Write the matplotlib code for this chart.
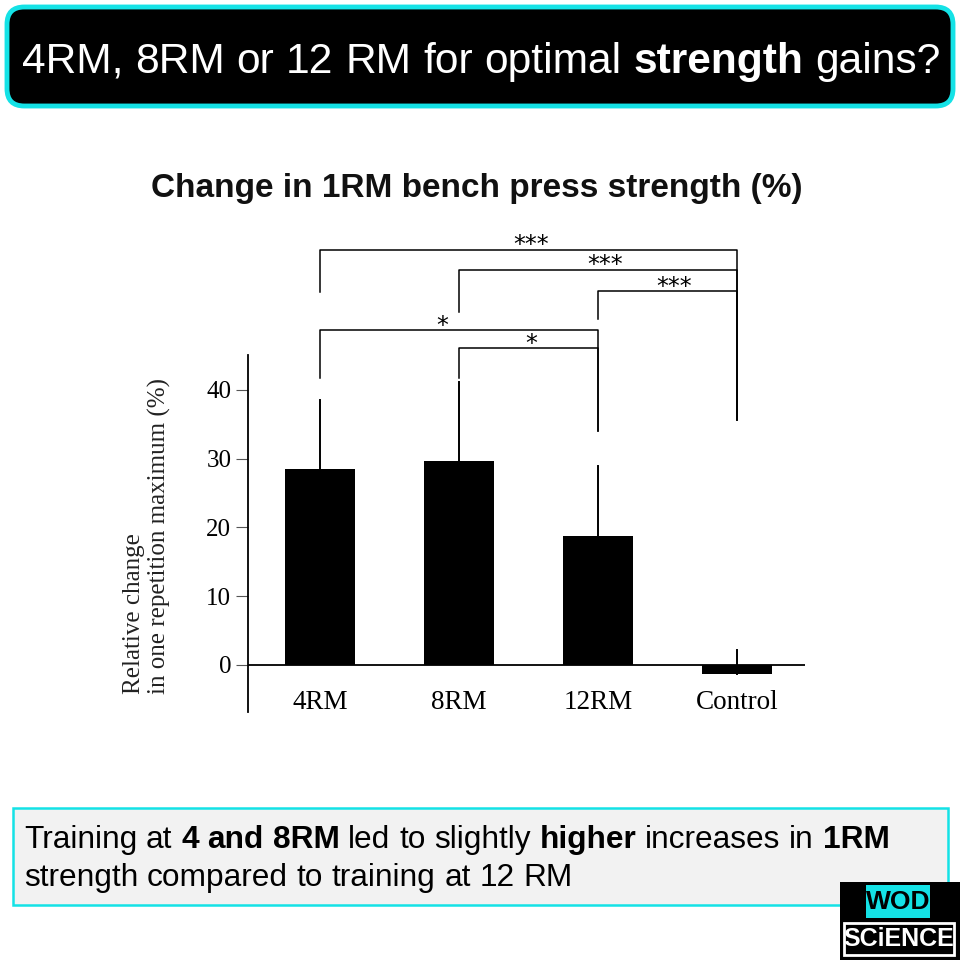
import matplotlib
matplotlib.use("Agg")
import matplotlib.pyplot as plt
from matplotlib.patches import FancyBboxPatch, Rectangle

# --- data ---
groups = ["4RM", "8RM", "12RM", "Control"]
change_pct = [28.5, 29.6, 18.7, -1.3]
change_sd = [10.0, 11.6, 10.3, 3.5]
y_ticks = [0, 10, 20, 30, 40]

# (left group, right group, bracket height, left leg end, right leg end, label, label x)
brackets = [
    (0, 3, 60.4, 54.2, 35.6, "***", 1.52),
    (1, 3, 57.5, 51.3, 35.6, "***", 2.05),
    (2, 3, 54.4, 50.3, 35.6, "***", 2.55),
    (0, 2, 48.7, 41.8, 34.0, "*", 0.88),
    (1, 2, 46.1, 41.8, 34.0, "*", 1.52),
]

header_parts = [("4RM, 8RM or 12 RM for optimal", "normal"), ("strength", "bold"), ("gains?", "normal")]
chart_title = "Change in 1RM bench press strength (%)"
note_line1 = [("Training at", "normal"), ("4 and 8RM", "bold"), ("led to slightly", "normal"),
              ("higher", "bold"), ("increases in", "normal"), ("1RM", "bold")]
note_line2 = [("strength compared to training at 12 RM", "normal")]
y_label_lines = ["Relative change", "in one repetition maximum (%)"]

W = H = 960
CYAN = "#14e2e6"
SANS_N = ["Liberation Sans Narrow", "Liberation Sans"]
SERIF = "Liberation Serif"

fig = plt.figure(figsize=(9.6, 9.6), dpi=100)
fig.patch.set_facecolor("white")
rend = fig.canvas.get_renderer()


def fx(px):
    return px / W


def fy(py):
    return 1 - py / H


def _w(s, size, family, weight):
    t = fig.text(0, 0, s, fontsize=size, family=family, weight=weight)
    w = t.get_window_extent(rend).width
    t.remove()
    return w


def rich_line(parts, x0, base_y, size, family, color, ha="left", fit=None):
    words = [(w, wt) for txt, wt in parts for w in txt.split()]

    def layout(sz):
        sp = _w("a a", sz, family, "normal") - _w("aa", sz, family, "normal")
        ws = [_w(w, sz, family, wt) for w, wt in words]
        return sp, ws, sum(ws) + sp * (len(ws) - 1)

    sp, ws, total = layout(size)
    if fit is not None:
        size = size * fit / total
        sp, ws, total = layout(size)
    x = x0 - total / 2 if ha == "center" else x0
    for (w, wt), wd in zip(words, ws):
        fig.text(fx(x), fy(base_y), w, fontsize=size, family=family, weight=wt,
                 color=color, va="baseline", ha="left")
        x += wd + sp
    return size


# --- header box ---
fig.patches.append(FancyBboxPatch((fx(7), fy(106)), fx(946), (106 - 7) / H,
                                  boxstyle="round,pad=0,rounding_size=0.018",
                                  transform=fig.transFigure, facecolor="black",
                                  edgecolor=CYAN, linewidth=3.5))
rich_line(header_parts, 481, 73, 33, SANS_N, "white", ha="center", fit=918)

# --- chart title ---
title_size = 20 * 650 / _w(chart_title, 20, "Liberation Sans", "bold")
fig.text(fx(477), fy(197), chart_title, fontsize=title_size, family="Liberation Sans",
         weight="bold", ha="center", va="baseline", color="#111111")

# --- chart ---
ax = fig.add_axes([fx(248), fy(712), (805 - 248) / W, (712 - 230) / H])
xs = list(range(len(groups)))
ax.bar(xs, change_pct, width=0.5, color="black", zorder=2)
for x, m, s in zip(xs, change_pct, change_sd):
    ax.plot([x, x], [m, m + s], color="black", lw=1.4, zorder=1)
ax.axhline(0, color="black", lw=1.3, zorder=3)

for l, r, yb, ly, ry, lab, tx in brackets:
    ax.plot([l, l, r, r], [ly, yb, yb, ry], color="black", lw=1.1, clip_on=False)
    ax.text(tx, yb - 0.4, lab, ha="center", va="baseline", fontsize=17,
            family="DejaVu Sans", clip_on=False)

# group labels sit inside the axes, just under the zero line
for x, g in zip(xs, groups):
    ax.text(x, -5.4, g, ha="center", va="center", family=SERIF, fontsize=19.5)

ax.set_xlim(-0.518, 3.489)
ax.set_ylim(-6.84, 63.27)
for side in ["top", "right", "bottom"]:
    ax.spines[side].set_visible(False)
ax.spines["left"].set_bounds(-6.84, 45.1)
ax.spines["left"].set_linewidth(1.3)
ax.set_yticks(y_ticks)
ax.set_yticklabels([str(v) for v in y_ticks], family=SERIF, fontsize=18)
ax.tick_params(axis="y", length=9, width=0.8, color="#555555", pad=3)
ax.set_xticks([])
ax.set_facecolor("none")

fig.text(fx(134), fy(694), y_label_lines[0], rotation=90, ha="center", va="bottom",
         family=SERIF, fontsize=18, color="#222222")
fig.text(fx(159), fy(694), y_label_lines[1], rotation=90, ha="center", va="bottom",
         family=SERIF, fontsize=18, color="#222222")

# --- note box ---
fig.patches.append(Rectangle((fx(13), fy(905)), (948 - 13) / W, (905 - 808) / H,
                             transform=fig.transFigure, facecolor="#f2f2f2",
                             edgecolor=CYAN, linewidth=1.8))
sz = rich_line(note_line1, 24, 848, 20, SANS_N, "black", fit=863)
rich_line(note_line2, 24, 886, sz, SANS_N, "black")

# --- logo ---
fig.patches.append(Rectangle((fx(840), fy(960)), 120 / W, 78 / H,
                             transform=fig.transFigure, facecolor="black", edgecolor="none"))
fig.patches.append(Rectangle((fx(866), fy(918)), 64 / W, 33 / H,
                             transform=fig.transFigure, facecolor=CYAN, edgecolor="none"))
fig.patches.append(Rectangle((fx(844), fy(955)), 110 / W, 32 / H,
                             transform=fig.transFigure, facecolor="black",
                             edgecolor="white", linewidth=2))
fig.text(fx(898), fy(902), "WOD", ha="center", va="center", fontsize=19,
         weight="bold", family=SANS_N, color="black")
fig.text(fx(899), fy(939), "SCiENCE", ha="center", va="center", fontsize=18,
         weight="bold", family=SANS_N, color="white")

fig.savefig("out.png", dpi=100)
